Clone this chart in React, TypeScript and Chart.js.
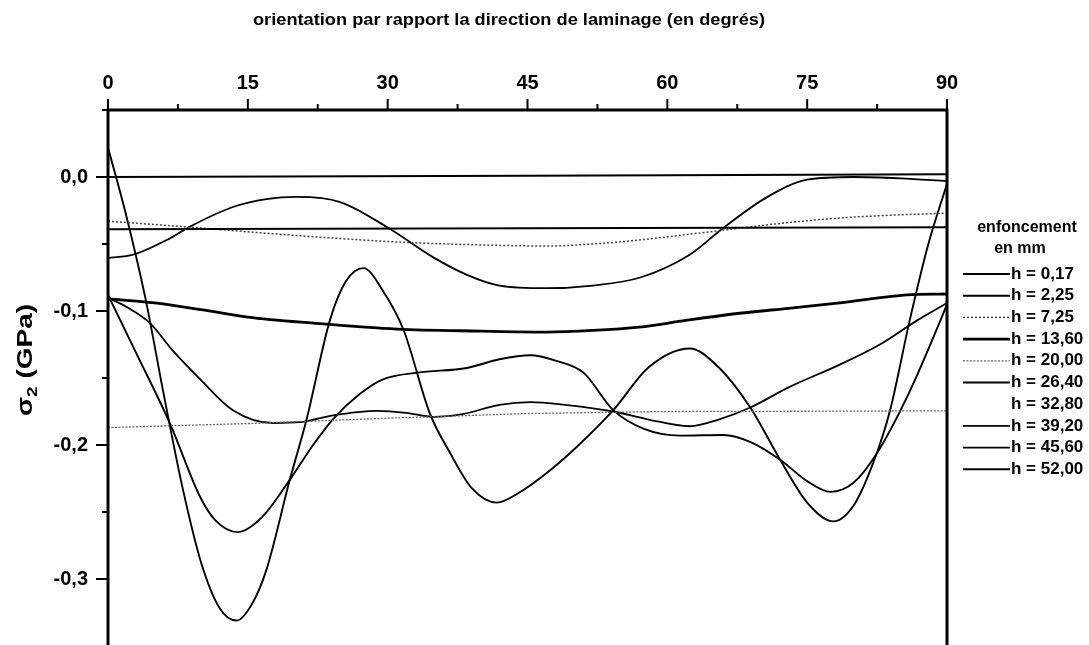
import React, { useEffect, useRef } from 'react';
import { Chart, registerables } from 'chart.js';

Chart.register(...registerables);

// ---------- texts ----------
const TOP_TITLE = 'orientation par rapport la direction de laminage (en degrés)';
const LEGEND_HEAD = ['enfoncement', 'en mm'];
const Y_TITLE_MAIN = 'σ';
const Y_TITLE_SUB = '2';
const Y_TITLE_REST = ' (GPa)';
const LABELS = ['h = 0,17', 'h = 2,25', 'h = 7,25', 'h = 13,60', 'h = 20,00', 'h = 26,40', 'h = 32,80', 'h = 39,20', 'h = 45,60', 'h = 52,00'];

// ---------- axes ----------
const X_MIN = 0;
const X_MAX = 90;
const X_STEP = 7.5;
const Y_MIN = -0.35;
const Y_MAX = 0.05;
const Y_STEP = 0.05;

// ---------- series (angle in degrees, sigma2 in GPa) ----------
const h017X = [0, 45, 90];
const h017Y = [0.0, 0.001, 0.002];

const h225X = [0, 45, 90];
const h225Y = [-0.039, -0.0382, -0.0375];

const h725X = [0, 8, 17, 24, 31, 39, 47, 52, 57, 62, 68, 73, 78.5, 84, 90];
const h725Y = [-0.033, -0.037, -0.042, -0.0455, -0.0485, -0.0505, -0.0515, -0.050, -0.047, -0.043, -0.038, -0.034, -0.0306, -0.0285, -0.027];

const h1360X = [0, 5, 10, 15, 22, 31, 40, 47, 52, 57, 62, 68, 73, 78.5, 85.7, 90];
const h1360Y = [-0.091, -0.094, -0.099, -0.1045, -0.109, -0.1135, -0.115, -0.1157, -0.1145, -0.112, -0.107, -0.1015, -0.098, -0.094, -0.088, -0.0873];

const h2000X = [0, 15, 30, 45, 60, 75, 90];
const h2000Y = [-0.187, -0.184, -0.180, -0.1765, -0.175, -0.1748, -0.1745];

const h2640X = [0, 2.7, 6.3, 8.8, 13.4, 17, 20.3, 24.9, 30.3, 34.9, 38.5, 42, 47, 52, 57.1, 62.4, 66, 70.7, 75, 80, 85, 90];
const h2640Y = [-0.0604, -0.058, -0.047, -0.037, -0.0224, -0.0165, -0.0149, -0.0187, -0.039, -0.060, -0.073, -0.081, -0.083, -0.081, -0.075, -0.058, -0.038, -0.015, -0.002, 0.0, -0.001, -0.003];

const h3280X: number[] = [];
const h3280Y: number[] = [];

const h3920X = [0, 2, 4.5, 7, 9.9, 13.4, 17.7, 20.6, 24, 28.9, 32, 34.9, 38, 42, 45.3, 49, 54.2, 58, 62.4, 65.5, 68.9, 73, 78.5, 82.8, 86.8, 90];
const h3920Y = [-0.09, -0.097, -0.109, -0.13, -0.151, -0.174, -0.1836, -0.183, -0.178, -0.1745, -0.176, -0.179, -0.177, -0.17, -0.168, -0.17, -0.175, -0.181, -0.186, -0.181, -0.172, -0.157, -0.14, -0.125, -0.107, -0.094];

const h4560X = [0, 3, 6.65, 9.9, 11.5, 13.9, 16.5, 19.5, 22, 24.1, 27, 29.5, 33.2, 38.5, 42, 45.3, 48, 51, 54.2, 57.5, 61.4, 66, 69, 72.1, 75, 77.5, 80, 82.5, 86, 89.3, 90];
const h4560Y = [-0.088, -0.131, -0.184, -0.239, -0.256, -0.265, -0.254, -0.226, -0.2, -0.181, -0.162, -0.151, -0.146, -0.1425, -0.136, -0.133, -0.137, -0.146, -0.174, -0.188, -0.193, -0.1925, -0.198, -0.211, -0.227, -0.235, -0.228, -0.206, -0.16, -0.107, -0.095];

const h5200X = [0, 2, 4, 6, 8, 10, 12, 13.8, 15.5, 17, 19.5, 21.3, 23.8, 25.5, 27.4, 29.5, 31.7, 34.5, 36.7, 39, 41.7, 44, 47.4, 50.5, 54.2, 58, 62.4, 65.5, 68.9, 72.1, 75, 77.8, 80, 82.1, 83.9, 86, 88, 90];
const h5200Y = [0.022, -0.03, -0.09, -0.163, -0.232, -0.288, -0.322, -0.331, -0.318, -0.293, -0.226, -0.181, -0.107, -0.078, -0.068, -0.085, -0.114, -0.176, -0.206, -0.232, -0.243, -0.236, -0.219, -0.2, -0.174, -0.142, -0.128, -0.142, -0.172, -0.211, -0.243, -0.257, -0.245, -0.213, -0.174, -0.107, -0.05, -0.005];

const SERIES_X = [h017X, h225X, h725X, h1360X, h2000X, h2640X, h3280X, h3920X, h4560X, h5200X];
const SERIES_Y = [h017Y, h225Y, h725Y, h1360Y, h2000Y, h2640Y, h3280Y, h3920Y, h4560Y, h5200Y];

// ---------- styles ----------
const COLORS = ['#000', '#000', '#444', '#000', '#666', '#000', '#000', '#000', '#000', '#000'];
const WIDTHS = [2, 2, 1.5, 2.8, 1.3, 1.8, 0, 1.8, 1.9, 1.9];
const DASHES: number[][] = [[], [], [2, 2], [], [2, 1.5], [], [], [], [], []];
const SMOOTH = [false, false, true, true, false, true, false, true, true, true];

const FONT = '"Liberation Sans", Arial, Helvetica, sans-serif';

const fmtComma = (v: number) => v.toFixed(1).replace('.', ',');

function fitText(ctx: CanvasRenderingContext2D, text: string, x: number, y: number, width: number) {
  const w = ctx.measureText(text).width;
  ctx.save();
  ctx.translate(x, y);
  ctx.scale(width / w, 1);
  ctx.textAlign = 'center';
  ctx.fillText(text, 0, 0);
  ctx.restore();
}

const decorPlugin = {
  id: 'decor',
  afterDatasetsDraw(chart: any) {
    const { ctx, chartArea: a, scales } = chart;
    const xs = scales.x;
    const ys = scales.y;
    ctx.save();
    ctx.strokeStyle = '#000';
    ctx.lineCap = 'butt';
    ctx.lineWidth = 3;
    ctx.beginPath();
    ctx.moveTo(a.left - 1.5, a.top);
    ctx.lineTo(a.right + 1.5, a.top);
    ctx.moveTo(a.left, a.top - 1.5);
    ctx.lineTo(a.left, a.bottom);
    ctx.moveTo(a.right, a.top - 1.5);
    ctx.lineTo(a.right, a.bottom);
    ctx.stroke();
    ctx.strokeStyle = '#999';
    ctx.lineWidth = 2;
    ctx.beginPath();
    ctx.moveTo(a.left, a.bottom);
    ctx.lineTo(a.right, a.bottom);
    ctx.stroke();
    ctx.strokeStyle = '#000';
    ctx.lineWidth = 2;
    xs.ticks.forEach((t: any) => {
      const px = xs.getPixelForValue(t.value);
      const major = Math.abs(t.value / 15 - Math.round(t.value / 15)) < 1e-6;
      const len = major ? 11 : 6;
      ctx.beginPath();
      ctx.moveTo(px, a.top);
      ctx.lineTo(px, a.top - len);
      ctx.stroke();
    });
    ys.ticks.forEach((t: any) => {
      const py = ys.getPixelForValue(t.value);
      const major = Math.abs(t.value * 10 - Math.round(t.value * 10)) < 1e-6;
      const len = major ? 12 : 6;
      ctx.beginPath();
      ctx.moveTo(a.left, py);
      ctx.lineTo(a.left - len, py);
      ctx.stroke();
    });
    ctx.restore();
  },
  afterDraw(chart: any) {
    const { ctx } = chart;
    ctx.save();
    ctx.fillStyle = '#000';
    // top title
    ctx.font = `bold 16px ${FONT}`;
    ctx.textBaseline = 'middle';
    fitText(ctx, TOP_TITLE, 509, 21, 512);
    // y title
    ctx.save();
    ctx.translate(26, 360);
    ctx.rotate(-Math.PI / 2);
    const bigFont = `bold 22px ${FONT}`;
    const subFont = `bold 15px ${FONT}`;
    ctx.font = bigFont;
    const w1 = ctx.measureText(Y_TITLE_MAIN).width;
    const w3 = ctx.measureText(Y_TITLE_REST).width;
    ctx.font = subFont;
    const w2 = ctx.measureText(Y_TITLE_SUB).width;
    const total = w1 + w2 + w3;
    const k = 112 / total;
    ctx.scale(k, 1);
    let x = -total / 2;
    ctx.textAlign = 'left';
    ctx.textBaseline = 'middle';
    ctx.font = bigFont;
    ctx.fillText(Y_TITLE_MAIN, x, 0);
    x += w1;
    ctx.font = subFont;
    ctx.fillText(Y_TITLE_SUB, x, 7);
    x += w2;
    ctx.font = bigFont;
    ctx.fillText(Y_TITLE_REST, x, 0);
    ctx.restore();
    // legend
    ctx.textAlign = 'center';
    ctx.textBaseline = 'middle';
    ctx.font = `bold 16px ${FONT}`;
    ctx.fillText(LEGEND_HEAD[0], 1027, 228);
    ctx.fillText(LEGEND_HEAD[1], 1020, 249);
    ctx.textAlign = 'left';
    ctx.font = `bold 17px ${FONT}`;
    chart.data.datasets.forEach((ds: any, i: number) => {
      const y = 274 + i * 21.7;
      if (ds.borderWidth > 0) {
        ctx.save();
        ctx.strokeStyle = ds.borderColor;
        ctx.lineWidth = ds.borderWidth;
        ctx.setLineDash(ds.borderDash || []);
        ctx.beginPath();
        ctx.moveTo(963, y);
        ctx.lineTo(1010, y);
        ctx.stroke();
        ctx.restore();
      }
      ctx.fillText(ds.label, 1011, y);
    });
    ctx.restore();
  },
};

export default function App() {
  const ref = useRef<HTMLCanvasElement | null>(null);
  useEffect(() => {
    if (!ref.current) return;
    const datasets = LABELS.map((label, i) => ({
      label,
      data: SERIES_X[i].map((x, j) => ({ x, y: SERIES_Y[i][j] })),
      borderColor: COLORS[i],
      borderWidth: WIDTHS[i],
      borderDash: DASHES[i],
      pointRadius: 0,
      fill: false,
      tension: SMOOTH[i] ? 0.4 : 0,
      cubicInterpolationMode: SMOOTH[i] ? 'monotone' : 'default',
    }));
    const noPad = (s: any) => {
      s.paddingTop = 0;
      s.paddingBottom = 0;
      s.paddingLeft = 0;
      s.paddingRight = 0;
    };
    const chart = new Chart(ref.current, {
      type: 'line',
      data: { datasets } as any,
      options: {
        responsive: false,
        animation: false,
        layout: { padding: { left: 0, top: 0, right: 142, bottom: 14 } },
        plugins: { legend: { display: false }, title: { display: false }, tooltip: { enabled: false } },
        scales: {
          x: {
            type: 'linear',
            position: 'top',
            min: X_MIN,
            max: X_MAX,
            grid: { display: false, drawTicks: false },
            border: { display: false },
            ticks: {
              stepSize: X_STEP,
              padding: 15,
              color: '#000',
              maxRotation: 0,
              autoSkip: false,
              font: { family: FONT, size: 20, weight: 'bold' },
              callback: (v: any) => (Math.abs(v / 15 - Math.round(v / 15)) < 1e-6 ? String(Math.round(v)) : ''),
            },
            afterFit: (s: any) => { s.height = 110; noPad(s); },
          },
          y: {
            type: 'linear',
            min: Y_MIN,
            max: Y_MAX,
            grid: { display: false, drawTicks: false },
            border: { display: false },
            ticks: {
              stepSize: Y_STEP,
              padding: 20,
              color: '#000',
              autoSkip: false,
              font: { family: FONT, size: 20, weight: 'bold' },
              callback: (v: any) => (Math.abs(v * 10 - Math.round(v * 10)) < 1e-6 && v < 0.04 ? fmtComma(v) : ''),
            },
            afterFit: (s: any) => { s.width = 108; noPad(s); },
          },
        },
      } as any,
      plugins: [decorPlugin],
    });
    return () => chart.destroy();
  }, []);
  return (
    <div style={{ position: 'fixed', left: 0, top: 0, width: 1089, height: 645, overflow: 'hidden', background: '#fff' }}>
      <canvas ref={ref} width={1089} height={660} style={{ display: 'block' }} />
    </div>
  );
}
